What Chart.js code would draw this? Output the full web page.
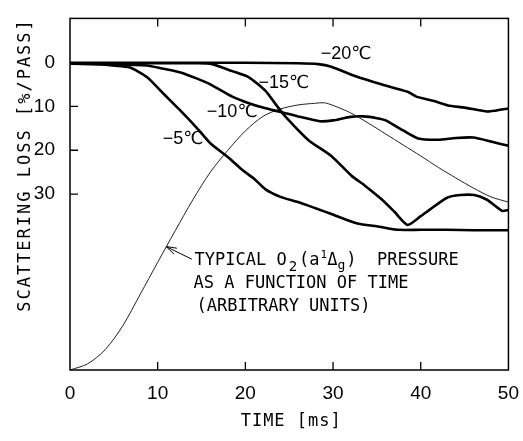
<!DOCTYPE html>
<html>
<head>
<meta charset="utf-8">
<script src="https://cdn.jsdelivr.net/npm/chart.js@4.4.1/dist/chart.umd.min.js"></script>
<style>
  html, body { margin: 0; padding: 0; background: #fff; }
  #loss_chart { display: block; }
</style>
</head>
<body>
<canvas id="loss_chart" width="523" height="441"></canvas>
<script>
// time axis [ms] and scattering loss [%/pass] for each cell temperature
let time_m5 = [0, 3, 5.9, 7, 8.8, 10.7, 12.6, 14.5, 16, 18.1, 19.6, 21, 22.3, 24, 26, 28, 29.8, 31.5, 32.9, 35, 37.4, 40, 43, 46, 50];
let loss_m5 = [0.3, 0.4, 0.9, 1.3, 3.4, 7.2, 11, 15, 18.4, 21.7, 24.4, 26.5, 28.9, 30.6, 31.8, 33.2, 34.5, 35.8, 36.7, 37.3, 38.1, 38.1, 38.1, 38.2, 38.2];

let time_m10 = [0, 4, 8.8, 10.5, 12.6, 14.5, 16, 18.5, 20.4, 22, 23.8, 24.6, 26, 28.5, 30, 32, 33.5, 35, 36, 38, 39.7, 42, 44, 46, 48, 50];
let loss_m10 = [0.3, 0.4, 0.7, 1.4, 2.3, 3.7, 5, 7.8, 9.3, 10.3, 11.2, 11.6, 12.3, 13.4, 13.2, 12.4, 12.3, 12.7, 13.2, 15.5, 17.3, 17.6, 17.2, 17.1, 18, 19];

let time_m15 = [0, 10, 14.5, 16.2, 18.5, 20.4, 22.3, 23.4, 24.6, 27.2, 29.8, 32.1, 33.6, 35.5, 37, 38.5, 40, 41.1, 43, 44.5, 46.1, 47.5, 48.4, 49.3, 50];
let loss_m15 = [0.2, 0.2, 0.2, 0.4, 2, 3.4, 6.5, 9.4, 12.4, 17.7, 21.3, 25.8, 28, 31.1, 34, 37, 35, 33.4, 30.8, 30.2, 30.2, 31.2, 32.5, 33.8, 33.6];

let time_m20 = [0, 10, 20, 26, 28.3, 29.8, 32.5, 35.5, 38.5, 39.5, 41.5, 43.1, 45, 47.6, 48.5, 50];
let loss_m20 = [0.1, 0.1, 0.1, 0.2, 0.4, 1, 3.1, 5, 6.7, 7.8, 8.8, 9.8, 10.3, 11.2, 11, 10.5];

// O2(a1Δg) pressure, arbitrary units plotted on the same axis
let time_o2 = [0, 2, 4, 6, 8, 10, 12, 14, 16, 18, 20, 22, 24, 26, 28, 29, 30, 32, 34, 36, 38, 40, 42, 44, 46, 48, 50];
let pres_o2 = [70, 68.6, 65.4, 60, 52.8, 45.5, 38.3, 31.3, 25, 20, 15.6, 12.3, 10.6, 9.7, 9.3, 9.2, 9.8, 11.5, 13.8, 16.3, 18.8, 21.3, 23.9, 26.3, 28.6, 30.6, 31.8];

let x_ticks = [0, 10, 20, 30, 40, 50];
let y_ticks = [0, 10, 20, 30];

let curve_labels = [
    { text: '\u221220\u2103', x: 31.5, y: -2.0 },
    { text: '\u221215\u2103', x: 24.4, y: 4.7 },
    { text: '\u221210\u2103', x: 18.5, y: 11.2 },
    { text: '\u22125\u2103', x: 12.9, y: 17.5 }
];

const SANS = '"Liberation Sans", "DejaVu Sans", sans-serif';
const MONO = '"DejaVu Sans Mono", "Liberation Mono", monospace';

function toPoints(xs, ys) {
    return xs.map((x, i) => ({ x: x, y: ys[i] }));
}

function lossSet(xs, ys) {
    return {
        data: toPoints(xs, ys),
        borderColor: '#000',
        borderWidth: 2.6,
        pointRadius: 0,
        tension: 0.2,
        fill: false
    };
}

// frame with inward ticks, curve labels, the O2 note and the axis titles
const decorations = {
    id: 'decorations',
    afterDraw(chart) {
        const ctx = chart.ctx;
        const area = chart.chartArea;
        const xs = chart.scales.x;
        const ys = chart.scales.y;

        ctx.save();
        ctx.strokeStyle = '#000';
        ctx.lineWidth = 1.5;
        ctx.strokeRect(area.left, area.top, area.right - area.left, area.bottom - area.top);

        ctx.lineWidth = 1.3;
        ctx.beginPath();
        x_ticks.slice(1, -1).forEach(v => {
            let px = xs.getPixelForValue(v);
            ctx.moveTo(px, area.bottom);
            ctx.lineTo(px, area.bottom - 8);
            ctx.moveTo(px, area.top);
            ctx.lineTo(px, area.top + 8);
        });
        y_ticks.slice(1).forEach(v => {
            let py = ys.getPixelForValue(v);
            ctx.moveTo(area.left, py);
            ctx.lineTo(area.left + 8, py);
        });
        ctx.stroke();

        // temperature labels
        ctx.fillStyle = '#000';
        ctx.font = '18px ' + SANS;
        ctx.textAlign = 'center';
        ctx.textBaseline = 'middle';
        curve_labels.forEach(l => {
            ctx.fillText(l.text, xs.getPixelForValue(l.x), ys.getPixelForValue(l.y));
        });

        // arrow pointing at the O2 curve
        let tipX = xs.getPixelForValue(10.95), tipY = ys.getPixelForValue(41.9);
        let tailX = xs.getPixelForValue(13.9), tailY = ys.getPixelForValue(44.8);
        let ang = Math.atan2(tailY - tipY, tailX - tipX);
        ctx.lineWidth = 1;
        ctx.beginPath();
        ctx.moveTo(tailX, tailY);
        ctx.lineTo(tipX, tipY);
        ctx.moveTo(tipX + 11 * Math.cos(ang - 0.3), tipY + 11 * Math.sin(ang - 0.3));
        ctx.lineTo(tipX, tipY);
        ctx.lineTo(tipX + 11 * Math.cos(ang + 0.3), tipY + 11 * Math.sin(ang + 0.3));
        ctx.stroke();

        // note text, first line has sub/superscripts
        let nx = xs.getPixelForValue(14.2);
        let ny = ys.getPixelForValue(45.2);
        ctx.textAlign = 'left';
        ctx.textBaseline = 'middle';
        let parts = [
            { t: 'TYPICAL O', size: 17, dy: 0, gap: 0 },
            { t: '2', size: 14, dy: 6, gap: 2 },
            { t: '(a', size: 17, dy: 0, gap: 2 },
            { t: '1', size: 11, dy: -6, gap: 1 },
            { t: '\u0394', size: 17, dy: 0, gap: 0 },
            { t: 'g', size: 13, dy: 5, gap: 0 },
            { t: ')  PRESSURE', size: 17, dy: 0, gap: 1 }
        ];
        let cx = nx;
        parts.forEach(p => {
            ctx.font = p.size + 'px ' + MONO;
            cx += p.gap;
            ctx.fillText(p.t, cx, ny + p.dy);
            cx += ctx.measureText(p.t).width;
        });
        ctx.font = '17px ' + MONO;
        ctx.fillText('AS A FUNCTION OF TIME', nx - 1, ny + 23);
        ctx.fillText('(ARBITRARY UNITS)', nx + 2, ny + 46);

        // axis titles
        ctx.textAlign = 'center';
        ctx.font = '17px ' + MONO;
        ctx.letterSpacing = '1px';
        ctx.fillText('TIME [ms]', (area.left + area.right) / 2 + 2, 422);

        ctx.translate(26, 165);
        ctx.rotate(-Math.PI / 2);
        ctx.letterSpacing = '2px';
        ctx.fillText('SCATTERING LOSS [%/PASS]', 0, 0);
        ctx.restore();
    }
};

new Chart(document.getElementById('loss_chart'), {
    type: 'line',
    data: {
        datasets: [
            lossSet(time_m20, loss_m20),
            lossSet(time_m15, loss_m15),
            lossSet(time_m10, loss_m10),
            lossSet(time_m5, loss_m5),
            {
                data: toPoints(time_o2, pres_o2),
                borderColor: '#222',
                borderWidth: 1,
                pointRadius: 0,
                tension: 0.3,
                fill: false
            }
        ]
    },
    options: {
        responsive: false,
        devicePixelRatio: 1,
        animation: false,
        layout: { padding: { top: 13, right: 12, left: 0, bottom: 0 } },
        plugins: {
            legend: { display: false },
            tooltip: { enabled: false }
        },
        scales: {
            x: {
                type: 'linear',
                min: 0,
                max: 50,
                grid: { display: false },
                border: { display: false },
                ticks: {
                    stepSize: 10,
                    color: '#000',
                    font: { family: SANS, size: 19 },
                    padding: 4,
                    maxRotation: 0
                },
                afterFit: scale => { scale.height = 71; }
            },
            y: {
                type: 'linear',
                reverse: true,
                min: -10,
                max: 70,
                grid: { display: false },
                border: { display: false },
                ticks: {
                    stepSize: 10,
                    color: '#000',
                    font: { family: SANS, size: 19 },
                    padding: 7,
                    callback: v => y_ticks.includes(v) ? v : ''
                },
                afterFit: scale => { scale.width = 70; }
            }
        }
    },
    plugins: [decorations]
});
</script>
</body>
</html>
